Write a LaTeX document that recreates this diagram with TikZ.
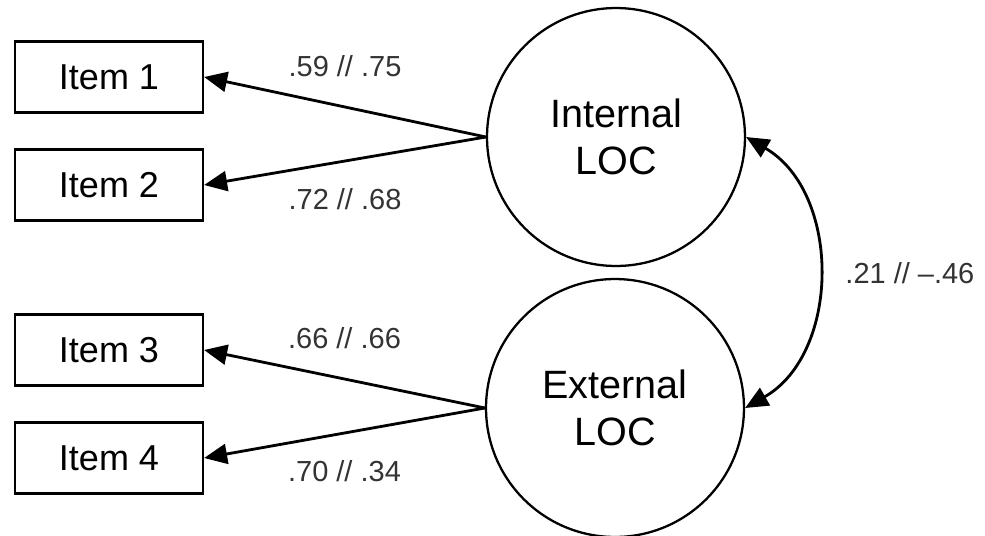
\documentclass[tikz,border=0pt]{standalone}
\usepackage{fontspec}
\setmainfont{Liberation Sans}
\usepackage{tikz}
\usetikzlibrary{arrows.meta,positioning}

\begin{document}
\begin{tikzpicture}[x=0.02cm,y=-0.02cm,
  item/.style={draw,line width=1.3pt,minimum width=3.76cm,minimum height=1.42cm,inner sep=2pt,font=\fontsize{20.5}{24}\selectfont},
  lat/.style={draw,circle,line width=1.3pt,minimum size=5.16cm,inner sep=0pt,align=center,font=\fontsize{22.5}{27}\selectfont},
  arr/.style={-{Triangle[length=0.46cm,width=0.4cm]},line width=1.6pt},
  lbl/.style={font=\fontsize{16.5}{19}\selectfont,text=black!80,inner sep=1pt}]
\useasboundingbox (0,0) rectangle (985,535);
% observed items
\node[item] (i1) at (109,77)  {Item 1};
\node[item] (i2) at (109,185) {Item 2};
\node[item] (i3) at (109,350) {Item 3};
\node[item] (i4) at (109,458) {Item 4};
% latent factors
\node[lat] (int) at (616,137) {Internal\\LOC};
\node[lat] (ext) at (615,408) {External\\LOC};
% loadings
\draw[arr] (int.west) -- node[lbl,above=0.55cm]{.59 // .75} (i1.east);
\draw[arr] (int.west) -- node[lbl,below=0.48cm]{.72 // .68} (i2.east);
\draw[arr] (ext.west) -- node[lbl,above=0.55cm]{.66 // .66} (i3.east);
\draw[arr] (ext.west) -- node[lbl,below=0.48cm]{.70 // .34} (i4.east);
% correlation
\draw[arr,{Triangle[length=0.46cm,width=0.4cm]}-{Triangle[length=0.46cm,width=0.4cm]}] (int.east) to[bend left=60,looseness=1.04] node[lbl,right=0.5cm]{.21 // --.46} (ext.east);
\end{tikzpicture}
\end{document}
